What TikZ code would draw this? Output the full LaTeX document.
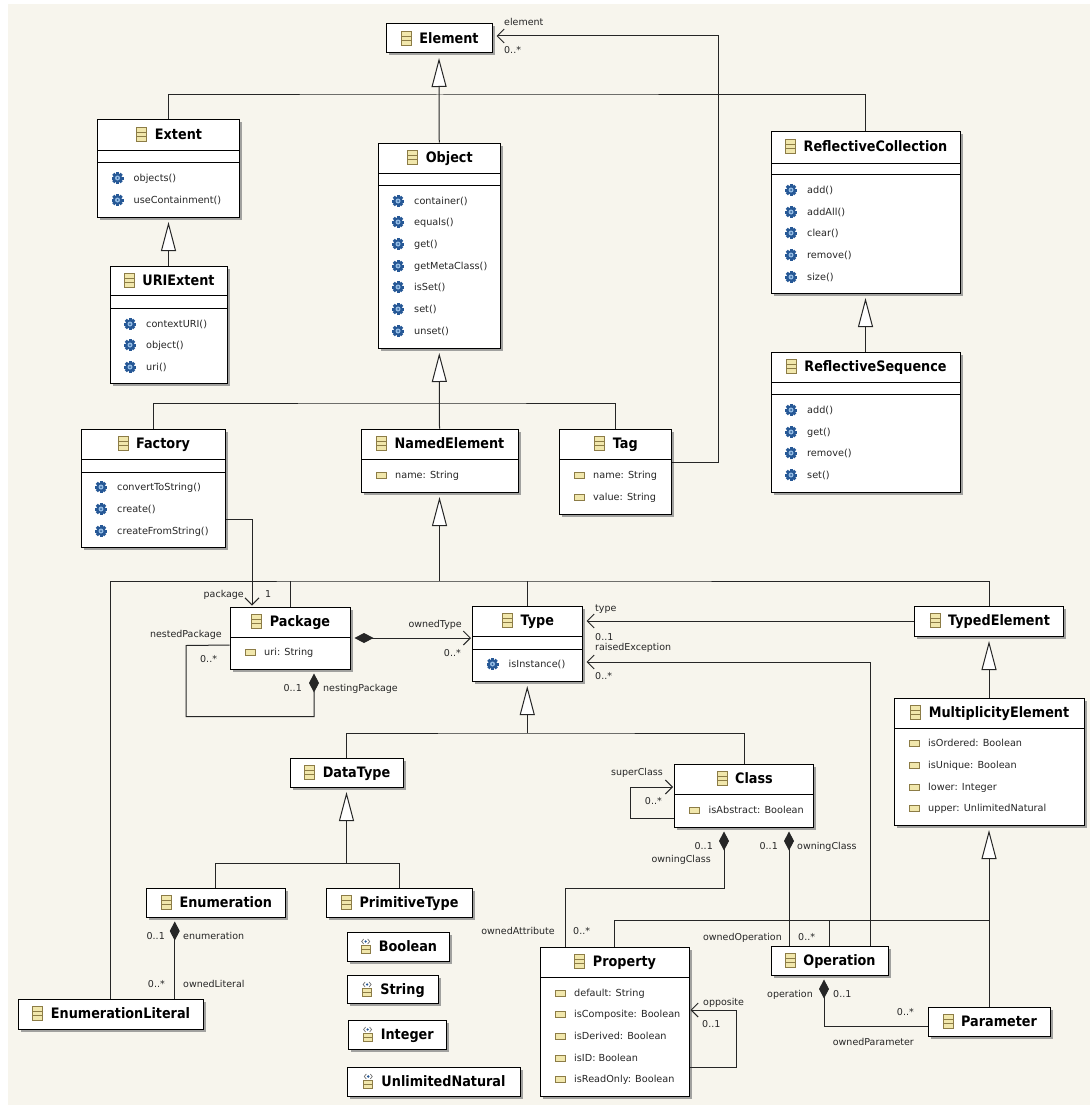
\documentclass[tikz,border=0pt]{standalone}
\usepackage{fontspec}
\setmainfont{DejaVu Sans}
\newfontfamily\clsfont{DejaVu Sans}[FakeStretch=0.89]
\usepackage{tikz}
\usetikzlibrary{calc,positioning,fit,shadows,arrows.meta}

\definecolor{paper}{RGB}{247,245,237}
\definecolor{gearblue}{RGB}{38,88,150}
\definecolor{gearlight}{RGB}{150,190,230}
\definecolor{icontan}{RGB}{241,231,172}
\definecolor{iconline}{RGB}{140,124,70}

\tikzset{
  cls/.style={draw=black, line width=1pt, fill=white, inner sep=0pt,
    drop shadow={shadow xshift=2.5pt, shadow yshift=-2.5pt, fill=black!45, opacity=.8}},
  clsname/.style={font=\clsfont\fontsize{14.4}{15}\selectfont\bfseries, inner sep=0pt, anchor=base},
  memb/.style={font=\fontsize{9.7}{10}\selectfont, text=black!85, inner sep=0pt, anchor=base west},
  rolelbl/.style={font=\fontsize{9.5}{10}\selectfont, text=black!85, inner sep=0pt},
  sep/.style={line width=1pt, draw=black},
  link/.style={line width=1pt, draw=black!85},
  genarrow/.style={link, -{Triangle[length=29pt, width=15pt, fill=white]}, shorten >=4.5pt},
  assoc/.style={link, -{Straight Barb[length=7pt, width=14pt]}},
  comp/.style={link, {Diamond[length=19pt, width=10pt]}-, shorten <=4pt},
  compnav/.style={link, {Diamond[length=19pt, width=10pt]}-{Straight Barb[length=7pt, width=14pt]}, shorten <=4pt},
  clsicon/.pic={
    \draw[iconline, fill=icontan, line width=.7pt] (-5,-7) rectangle (5,7);
    \draw[iconline, line width=.7pt] (-5,-2.3) -- (5,-2.3) (-5,2.3) -- (5,2.3);
  },
  opicon/.pic={
    \foreach \a in {0,45,90,135}{\fill[gearblue, rotate=\a] (-1.5,-6) rectangle (1.5,6);}
    \fill[gearblue] (0,0) circle (4.7);
    \fill[gearlight] (0,0) circle (2.5);
    \fill[gearblue] (0,0) circle (1);
  },
  attricon/.pic={
    \draw[iconline, fill=icontan, line width=.7pt] (-5,-3) rectangle (5,3);
  },
  dticon/.pic={
    \draw[iconline, fill=icontan, line width=.6pt] (-4.5,-1) rectangle (4.5,7);
    \draw[iconline, line width=.6pt] (-4.5,3) -- (4.5,3);
    \draw[black!55, line width=.7pt] (-2,-7.5) -- (-4,-5) -- (-2,-2.5) (2,-7.5) -- (4,-5) -- (2,-2.5);
    \fill[gearblue] (0,-5) circle (1.3);
  }
}

\newcounter{membno}
% box: [icon]{name}{x1}{y1}{x2}{y2}{title}
\newcommand{\umlbox}[7][clsicon]{%
  \node[cls, fit={(#3,#4) (#5,#6)}] (#2) {};
  \node[clsname] (#2-name) at ({(#3+#5)/2+10},#4+19.8) {#7};
  \pic at ([xshift=-13pt,yshift=5.3pt]#2-name.base west) {#1};
}
\newcommand{\umlop}[3]{%
  \stepcounter{membno}%
  \pic at (#1+20,#2) {opicon};
  \node[memb] (m\themembno) at (#1+36,#2+3.5) {#3};
}
\newcommand{\umlattr}[3]{%
  \stepcounter{membno}%
  \pic at (#1+20,#2) {attricon};
  \node[memb] (m\themembno) at (#1+34,#2+3.5) {#3};
}
\newcommand{\umlsep}[3]{\draw[sep] (#1,#3) -- (#2,#3);}

\begin{document}
\begin{tikzpicture}[x=1pt, y=-1pt]
  \useasboundingbox (0,0) rectangle (1090,1105);
  \fill[white] (0,0) rectangle (1090,1105);
  \fill[paper] (8,4) rectangle (1090,1105);

  % classes
  \umlbox{element}{386}{24}{492}{53}{Element}

  \umlbox{extent}{97.5}{120}{239.5}{217}{Extent}
  \umlsep{97.5}{239.5}{150} \umlsep{97.5}{239.5}{162}
  \umlop{97.5}{178}{objects()}
  \umlop{97.5}{200}{useContainment()}

  \umlbox{uriext}{110}{266}{227}{383}{URIExtent}
  \umlsep{110}{227}{295} \umlsep{110}{227}{308}
  \umlop{110}{324}{contextURI()}
  \umlop{110}{345}{object()}
  \umlop{110}{367}{uri()}

  \umlbox{object}{378}{143}{500.5}{348}{Object}
  \umlsep{378}{500.5}{173} \umlsep{378}{500.5}{185}
  \umlop{378}{201}{container()}
  \umlop{378}{222}{equals()}
  \umlop{378}{244}{get()}
  \umlop{378}{266}{getMetaClass()}
  \umlop{378}{287}{isSet()}
  \umlop{378}{309}{set()}
  \umlop{378}{331}{unset()}

  \umlbox{rcoll}{771}{132}{960}{293}{ReflectiveCollection}
  \umlsep{771}{960}{163} \umlsep{771}{960}{174}
  \umlop{771}{190}{add()}
  \umlop{771}{212}{addAll()}
  \umlop{771}{233}{clear()}
  \umlop{771}{255}{remove()}
  \umlop{771}{277}{size()}

  \umlbox{rseq}{771}{352}{960}{492}{ReflectiveSequence}
  \umlsep{771}{960}{382} \umlsep{771}{960}{394}
  \umlop{771}{410}{add()}
  \umlop{771}{432}{get()}
  \umlop{771}{453}{remove()}
  \umlop{771}{475}{set()}

  \umlbox{factory}{81}{429}{225}{547}{Factory}
  \umlsep{81}{225}{459} \umlsep{81}{225}{472}
  \umlop{81}{487}{convertToString()}
  \umlop{81}{509}{create()}
  \umlop{81}{531}{createFromString()}

  \umlbox{namedel}{361}{429}{518}{492}{NamedElement}
  \umlsep{361}{518}{459}
  \umlattr{361}{475}{name: String}

  \umlbox{tag}{559}{429}{671.5}{514}{Tag}
  \umlsep{559}{671.5}{459}
  \umlattr{559}{475}{name: String}
  \umlattr{559}{497}{value: String}

  \umlbox{package}{230}{607}{350}{669}{Package}
  \umlsep{230}{350}{637}
  \umlattr{230}{652}{uri: String}

  \umlbox{type}{472.5}{606}{582}{681}{Type}
  \umlsep{472.5}{582}{636} \umlsep{472.5}{582}{649}
  \umlop{472.5}{664}{isInstance()}

  \umlbox{typedel}{914.5}{606}{1063.5}{636}{TypedElement}

  \umlbox{multel}{894}{698}{1084}{825}{MultiplicityElement}
  \umlsep{894}{1084}{728}
  \umlattr{894}{743}{isOrdered: Boolean}
  \umlattr{894}{765}{isUnique: Boolean}
  \umlattr{894}{787}{lower: Integer}
  \umlattr{894}{808}{upper: UnlimitedNatural}

  \umlbox{datatype}{290}{758}{403}{787}{DataType}

  \umlbox{class}{674.5}{764}{813.5}{827}{Class}
  \umlsep{674.5}{813.5}{794}
  \umlattr{674.5}{810}{isAbstract: Boolean}

  \umlbox{enum}{146.5}{888}{285}{917}{Enumeration}
  \umlbox{primtype}{326}{888}{472}{917}{PrimitiveType}
  \umlbox{enumlit}{18}{999}{203}{1029}{EnumerationLiteral}

  \umlbox[dticon]{boolean}{347}{932}{449}{961}{Boolean}
  \umlbox[dticon]{string}{347}{975}{438}{1003}{String}
  \umlbox[dticon]{integer}{348}{1020}{446.5}{1049}{Integer}
  \umlbox[dticon]{unlimnat}{347}{1067}{520}{1096}{UnlimitedNatural}

  \umlbox{property}{540}{947}{689}{1096}{Property}
  \umlsep{540}{689}{977}
  \umlattr{540}{993}{default: String}
  \umlattr{540}{1014}{isComposite: Boolean}
  \umlattr{540}{1036}{isDerived: Boolean}
  \umlattr{540}{1058}{isID: Boolean}
  \umlattr{540}{1079}{isReadOnly: Boolean}

  \umlbox{operation}{771}{946}{888}{975}{Operation}
  \umlbox{parameter}{928}{1007}{1050}{1036}{Parameter}

  % generalizations
  \coordinate (ebus) at (439,95);
  \draw[link] (extent.north) |- (ebus) -| (rcoll.north);
  \draw[genarrow] (object.north) -- (element.south);
  \draw[genarrow] (uriext.north) -- (extent.south);
  \draw[genarrow] (rseq.north) -- (rcoll.south);

  \coordinate (obus) at (439.25,403);
  \draw[link] (factory.north) |- (obus) -| (tag.north);
  \draw[genarrow] (namedel.north) -- (object.south);

  \coordinate (nbus) at (439.5,581);
  \draw[link] (enumlit.north) |- (nbus) -| (typedel.north);
  \draw[link] (package.north) -- (package.north |- nbus);
  \draw[link] (type.north) -- (type.north |- nbus);
  \draw[genarrow] (nbus) -- (namedel.south);

  \coordinate (tbus) at (527.25,733);
  \draw[link] (datatype.north) |- (tbus) -| (class.north);
  \draw[genarrow] (tbus) -- (type.south);

  \coordinate (dbus) at (346.5,863);
  \draw[link] (enum.north) |- (dbus) -| (primtype.north);
  \draw[genarrow] (dbus) -- (datatype.south);

  \draw[genarrow] (multel.north) -- (typedel.south);

  \coordinate (mbus) at (989,920.5);
  \draw[link] (property.north) |- (mbus);
  \draw[link] (operation.north) -- (operation.north |- mbus);
  \draw[genarrow] (parameter.north) -- (multel.south);

  % associations
  \draw[assoc, shorten >=4pt] ([yshift=9.5pt]tag.east) -- ++(46.5,0) |- ([yshift=2.5pt]element.east);
  \node[rolelbl, anchor=base west] (l-elem) at (504,25.3) {element};
  \node[rolelbl, anchor=base west] (l-elemm) at (504,53.3) {0..*};

  \draw[assoc, shorten >=1pt] ([yshift=-31pt]factory.east) -| ([xshift=22.5pt]package.north west);
  \node[rolelbl, anchor=base east] (l-pack) at (244,597.3) {package};
  \node[rolelbl, anchor=base west] (l-packm) at (265,597.3) {1};

  \draw[comp] ([xshift=24pt]package.south) -- ++(0,47) -| ++(-128,-71) -- ([yshift=-7pt]package.west);
  \node[rolelbl, anchor=base east] (l-nested) at (222,637.3) {nestedPackage};
  \node[rolelbl, anchor=base west] (l-nestedm) at (200,662.3) {0..*};
  \node[rolelbl, anchor=base east] (l-nestingm) at (302,691.3) {0..1};
  \node[rolelbl, anchor=base west] (l-nesting) at (323,691.3) {nestingPackage};

  \draw[compnav, shorten >=1pt] (package.east) -- (package.east -| type.west);
  \node[rolelbl, anchor=base east] (l-otype) at (462,627.3) {ownedType};
  \node[rolelbl, anchor=base east] (l-otypem) at (461,656.3) {0..*};

  \draw[assoc, shorten >=4pt] (typedel.west) -- (typedel.west -| type.east);
  \node[rolelbl, anchor=base west] (l-type) at (595,611.3) {type};
  \node[rolelbl, anchor=base west] (l-typem) at (595,640.3) {0..1};

  \draw[assoc, shorten >=4pt] ([xshift=40.5pt]operation.north) |- ([yshift=-18.5pt]type.east);
  \node[rolelbl, anchor=base west] (l-raised) at (595,650.3) {raisedException};
  \node[rolelbl, anchor=base west] (l-raisedm) at (595,679.3) {0..*};

  \draw[assoc, shorten >=1pt] ([yshift=-22.5pt]class.west) -- ++(-43.5,0) |- ([yshift=8.5pt]class.west);
  \node[rolelbl, anchor=base east] (l-super) at (663,775.3) {superClass};
  \node[rolelbl, anchor=base east] (l-superm) at (662,804.3) {0..*};

  \draw[comp] ([xshift=-20pt]class.south) -- ++(0,61) -| ([xshift=-49pt]property.north);
  \node[rolelbl, anchor=base east] (l-ocls1m) at (713,849.3) {0..1};
  \node[rolelbl, anchor=base east] (l-ocls1) at (711,862.3) {owningClass};
  \node[rolelbl, anchor=base east] (l-oattr) at (555,934.3) {ownedAttribute};
  \node[rolelbl, anchor=base west] (l-oattrm) at (573,934.3) {0..*};

  \draw[comp] ([xshift=45pt]class.south) -- ([xshift=45pt]class.south |- operation.north);
  \node[rolelbl, anchor=base east] (l-ocls2m) at (778,849.3) {0..1};
  \node[rolelbl, anchor=base west] (l-ocls2) at (797,849.3) {owningClass};
  \node[rolelbl, anchor=base east] (l-oop) at (782,940.3) {ownedOperation};
  \node[rolelbl, anchor=base west] (l-oopm) at (798,940.3) {0..*};

  \draw[comp] ([xshift=-5.5pt]operation.south) |- ([yshift=-4.5pt]parameter.west);
  \node[rolelbl, anchor=base east] (l-oper) at (813,997.3) {operation};
  \node[rolelbl, anchor=base west] (l-operm) at (833,997.3) {0..1};
  \node[rolelbl, anchor=base east] (l-oparm) at (914,1015.3) {0..*};
  \node[rolelbl, anchor=base east] (l-opar) at (914,1045.3) {ownedParameter};

  \draw[assoc, shorten >=1pt] ([yshift=-45.5pt]property.east) -- ++(47,0) |- ([yshift=11.5pt]property.east);
  \node[rolelbl, anchor=base west] (l-opp) at (703,1005.3) {opposite};
  \node[rolelbl, anchor=base west] (l-oppm) at (702,1027.3) {0..1};

  \draw[comp] ([xshift=-41pt]enum.south) -- ([xshift=-41pt]enum.south |- enumlit.north);
  \node[rolelbl, anchor=base east] (l-enumm) at (165,939.3) {0..1};
  \node[rolelbl, anchor=base west] (l-enum) at (183,939.3) {enumeration};
  \node[rolelbl, anchor=base east] (l-olitm) at (165,987.3) {0..*};
  \node[rolelbl, anchor=base west] (l-olit) at (183,987.3) {ownedLiteral};
\end{tikzpicture}
\end{document}
